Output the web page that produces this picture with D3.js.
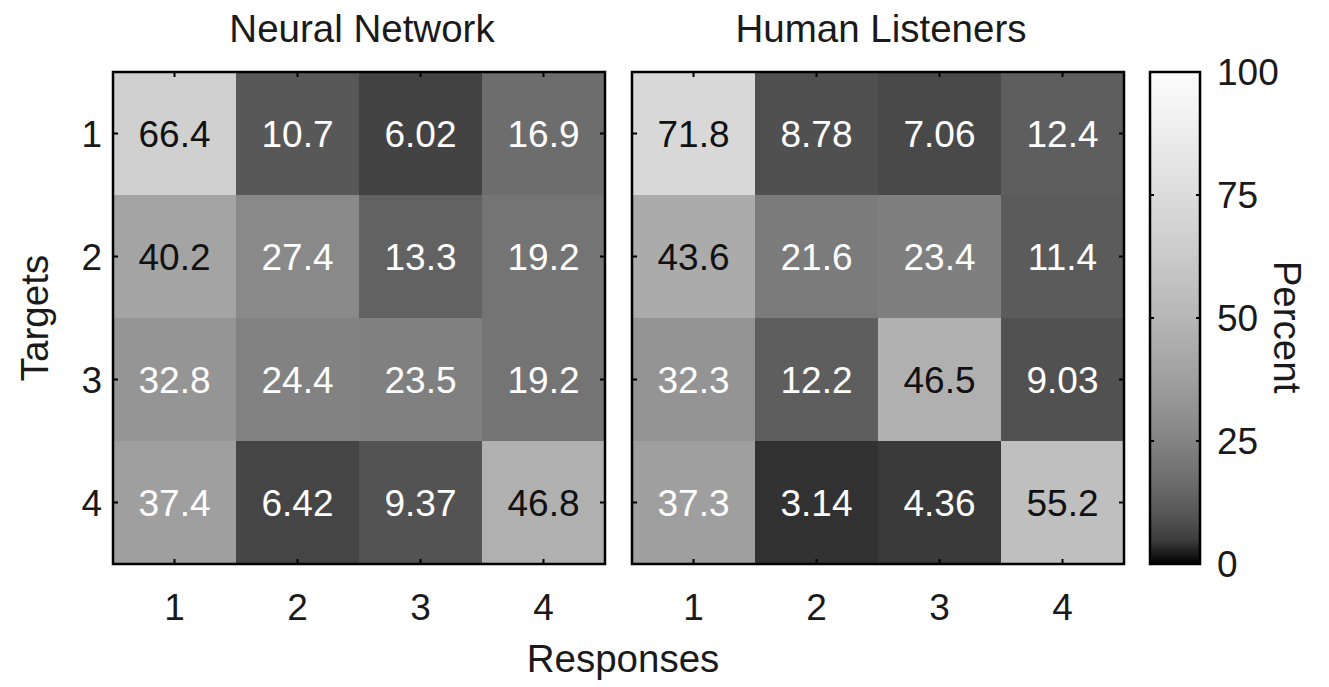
<!DOCTYPE html>
<html>
<head>
<meta charset="utf-8">
<script src="https://cdn.jsdelivr.net/npm/d3@7"></script>
<style>
  body { margin: 0; background: #fff; }
  text { font-family: "Liberation Sans", Arial, sans-serif; fill: #1a1a1a; }
</style>
</head>
<body>
<svg id="chart" width="1329" height="687"></svg>
<script>
// rows = targets, cols = responses
var targets = ["1", "2", "3", "4"];
var responses = ["1", "2", "3", "4"];
var neuralValues = [
  [66.4, 10.7, 6.02, 16.9],
  [40.2, 27.4, 13.3, 19.2],
  [32.8, 24.4, 23.5, 19.2],
  [37.4, 6.42, 9.37, 46.8]
];
var humanValues = [
  [71.8, 8.78, 7.06, 12.4],
  [43.6, 21.6, 23.4, 11.4],
  [32.3, 12.2, 46.5, 9.03],
  [37.3, 3.14, 4.36, 55.2]
];
var panelTitles = ["Neural Network", "Human Listeners"];
var colorTicks = [0, 25, 50, 75, 100];

var svg = d3.select("#chart");
var fs = 37, fsTitle = 38.5;

var plotTop = 72, plotBottom = 564;
var panels = [
  {title: panelTitles[0], data: neuralValues, x0: 113, x1: 605},
  {title: panelTitles[1], data: humanValues, x0: 632, x1: 1124}
];

// gray colormap, brightened like the original
var gray = d3.scalePow().exponent(0.47).domain([0, 100]).range([0, 252]).clamp(true);
function cellColor(v) { var g = Math.round(gray(v)); return d3.rgb(g, g, g); }

var y = d3.scaleBand().domain(targets).range([plotTop, plotBottom]);

panels.forEach(function(p, pi) {
  var x = d3.scaleBand().domain(responses).range([p.x0, p.x1]);
  var g = svg.append("g");

  var cells = [];
  p.data.forEach(function(row, i) {
    row.forEach(function(v, j) { cells.push({t: targets[i], r: responses[j], v: v}); });
  });

  g.selectAll("rect.cell").data(cells).enter().append("rect")
    .attr("class", "cell")
    .attr("x", d => x(d.r))
    .attr("y", d => y(d.t))
    .attr("width", x.bandwidth() + 0.5)
    .attr("height", y.bandwidth() + 0.5)
    .attr("fill", d => cellColor(d.v));

  g.selectAll("text.val").data(cells).enter().append("text")
    .attr("class", "val")
    .attr("x", d => x(d.r) + x.bandwidth() / 2)
    .attr("y", d => y(d.t) + y.bandwidth() / 2)
    .attr("dy", "0.36em")
    .attr("text-anchor", "middle")
    .attr("font-size", fs)
    .style("fill", d => d.v < 40 ? "#fff" : "#111")
    .text(d => d.v);

  // inner ticks on all four sides
  var tl = 5;
  responses.forEach(function(r) {
    var cx = x(r) + x.bandwidth() / 2;
    g.append("line").attr("x1", cx).attr("x2", cx).attr("y1", plotBottom).attr("y2", plotBottom - tl).attr("stroke", "#000").attr("stroke-width", 2);
    g.append("line").attr("x1", cx).attr("x2", cx).attr("y1", plotTop).attr("y2", plotTop + tl).attr("stroke", "#000").attr("stroke-width", 2);
  });
  targets.forEach(function(t) {
    var cy = y(t) + y.bandwidth() / 2;
    g.append("line").attr("x1", p.x0).attr("x2", p.x0 + tl).attr("y1", cy).attr("y2", cy).attr("stroke", "#000").attr("stroke-width", 2);
    g.append("line").attr("x1", p.x1).attr("x2", p.x1 - tl).attr("y1", cy).attr("y2", cy).attr("stroke", "#000").attr("stroke-width", 2);
  });

  g.append("rect")
    .attr("x", p.x0).attr("y", plotTop)
    .attr("width", p.x1 - p.x0).attr("height", plotBottom - plotTop)
    .attr("fill", "none").attr("stroke", "#000").attr("stroke-width", 2.5);

  // x tick labels
  g.selectAll("text.xt").data(responses).enter().append("text")
    .attr("x", d => x(d) + x.bandwidth() / 2)
    .attr("y", 620)
    .attr("text-anchor", "middle")
    .attr("font-size", fs)
    .text(d => d);

  g.append("text")
    .attr("x", (p.x0 + p.x1) / 2 + 3)
    .attr("y", 42)
    .attr("text-anchor", "middle")
    .attr("font-size", fsTitle)
    .text(p.title);

  if (pi === 0) {
    g.selectAll("text.yt").data(targets).enter().append("text")
      .attr("x", 102)
      .attr("y", d => y(d) + y.bandwidth() / 2)
      .attr("dy", "0.36em")
      .attr("text-anchor", "end")
      .attr("font-size", fs)
      .text(d => d);
  }
});

// axis titles
svg.append("text")
  .attr("x", 623).attr("y", 672)
  .attr("text-anchor", "middle")
  .attr("font-size", fsTitle)
  .text("Responses");

svg.append("text")
  .attr("transform", "translate(48,318) rotate(-90)")
  .attr("text-anchor", "middle")
  .attr("font-size", fsTitle)
  .text("Targets");

// colorbar
var cbX = 1150, cbW = 50;
var cbScale = d3.scaleLinear().domain([0, 100]).range([plotBottom, plotTop]);
var grad = svg.append("defs").append("linearGradient")
  .attr("id", "cbgrad").attr("x1", 0).attr("x2", 0).attr("y1", 1).attr("y2", 0);
d3.range(0, 101, 5).forEach(function(v) {
  grad.append("stop").attr("offset", v / 100).attr("stop-color", cellColor(v));
});
svg.append("rect")
  .attr("x", cbX).attr("y", plotTop)
  .attr("width", cbW).attr("height", plotBottom - plotTop)
  .attr("fill", "url(#cbgrad)")
  .attr("stroke", "#000").attr("stroke-width", 2.5);

colorTicks.forEach(function(v) {
  if (v > 0 && v < 100) {
    svg.append("line").attr("x1", cbX).attr("x2", cbX + 4).attr("y1", cbScale(v)).attr("y2", cbScale(v)).attr("stroke", "#000").attr("stroke-width", 2);
    svg.append("line").attr("x1", cbX + cbW).attr("x2", cbX + cbW - 4).attr("y1", cbScale(v)).attr("y2", cbScale(v)).attr("stroke", "#000").attr("stroke-width", 2);
  }
});
svg.selectAll("text.ct").data(colorTicks).enter().append("text")
  .attr("x", 1217)
  .attr("y", d => cbScale(d))
  .attr("dy", "0.36em")
  .attr("font-size", fs)
  .text(d => d);

svg.append("text")
  .attr("transform", "translate(1274,327) rotate(90)")
  .attr("text-anchor", "middle")
  .attr("font-size", fsTitle)
  .text("Percent");
</script>
</body>
</html>
